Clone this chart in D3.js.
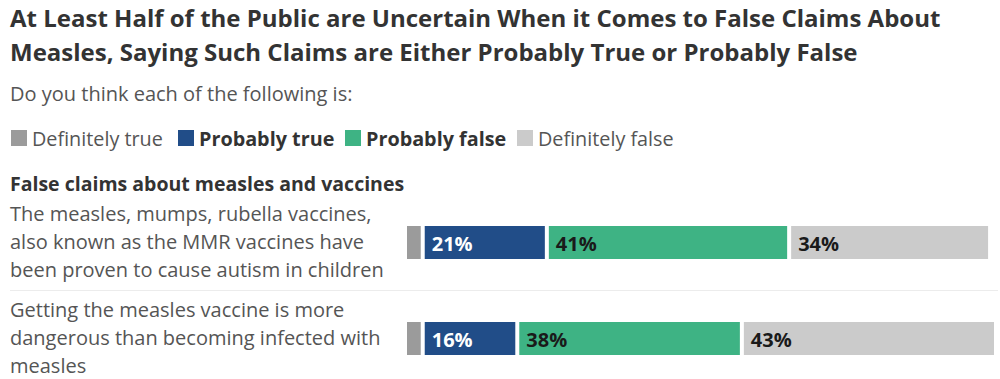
<!DOCTYPE html>
<html>
<head>
<meta charset="utf-8">
<script src="https://cdn.jsdelivr.net/npm/d3@7"></script>
<style>
  body { margin: 0; background: #fff; }
  svg { display: block; font-family: "Open Sans", Lato, sans-serif; }
</style>
</head>
<body>
<div id="chart"></div>
<script>
// data
var categories = ["Definitely true", "Probably true", "Probably false", "Definitely false"];
var claims = [
  ["The measles, mumps, rubella vaccines,", "also known as the MMR vaccines have", "been proven to cause autism in children"],
  ["Getting the measles vaccine is more", "dangerous than becoming infected with", "measles"]
];
var definitelyTrue = [3, 3];
var probablyTrue = [21, 16];
var probablyFalse = [41, 38];
var definitelyFalse = [34, 43];

var colors = ["#9b9b9b", "#214d88", "#3eb384", "#cbcbcb"];
var labelColors = ["#fff", "#fff", "#1a1a1a", "#1a1a1a"];

var width = 1000
    height = 379

var svg = d3.select("#chart")
  .append("svg")
  .attr("width", width)
  .attr("height", height);

// title + subtitle
var title = svg.append("text")
  .attr("x", 10)
  .attr("font-size", 24)
  .attr("font-weight", "bold")
  .attr("fill", "#333");
title.append("tspan").attr("x", 10).attr("y", 27)
  .text("At Least Half of the Public are Uncertain When it Comes to False Claims About");
title.append("tspan").attr("x", 10).attr("y", 61)
  .text("Measles, Saying Such Claims are Either Probably True or Probably False");

svg.append("text")
  .attr("x", 10)
  .attr("y", 101)
  .attr("font-size", 20)
  .attr("fill", "#555")
  .text("Do you think each of the following is:");

// legend
var legendX = [11, 178, 345, 517];
var legend = svg.selectAll(".legend")
  .data(categories)
  .enter()
  .append("g")
  .attr("transform", function(d, i) { return "translate(" + legendX[i] + ",130)"; });

legend.append("rect")
  .attr("width", 16)
  .attr("height", 16)
  .attr("fill", function(d, i) { return colors[i]; });

legend.append("text")
  .attr("x", 21)
  .attr("y", 15.5)
  .attr("font-size", 19.8)
  .attr("font-weight", function(d, i) { return (i == 1 || i == 2) ? "bold" : "normal"; })
  .attr("fill", function(d, i) { return (i == 1 || i == 2) ? "#333" : "#555"; })
  .text(function(d) { return d; });

svg.append("text")
  .attr("x", 10)
  .attr("y", 191)
  .attr("font-size", 19.5)
  .attr("font-weight", "bold")
  .attr("fill", "#333")
  .text("False claims about measles and vaccines");

// scales
var x = d3.scaleLinear()
  .domain([0, 100])
  .range([407, 998]);

var y = d3.scaleBand()
  .domain(d3.range(claims.length))
  .range([194.5, 386.5]);

var barHeight = 33;
var gap = 4;

// stack the series
var rows = claims.map(function(c, i) {
  var vals = [definitelyTrue[i], probablyTrue[i], probablyFalse[i], definitelyFalse[i]];
  var start = 0;
  return vals.map(function(v, k) {
    var seg = { row: i, cat: k, value: v, x0: start, x1: start + v };
    start += v;
    return seg;
  });
});

// separator lines between rows
svg.selectAll(".sep")
  .data(d3.range(1, claims.length))
  .enter()
  .append("line")
  .attr("x1", 10)
  .attr("x2", 998)
  .attr("y1", function(d) { return y(d); })
  .attr("y2", function(d) { return y(d); })
  .attr("stroke", "#ececec")
  .attr("stroke-width", 1);

// row labels
var rowLabel = svg.selectAll(".rowlabel")
  .data(claims)
  .enter()
  .append("text")
  .attr("font-size", 20)
  .attr("fill", "#555");

rowLabel.selectAll("tspan")
  .data(function(d, i) { return d.map(function(line, j) { return { line: line, j: j, n: d.length, row: i }; }); })
  .enter()
  .append("tspan")
  .attr("x", 10)
  .attr("y", function(d) {
    var c = y(d.row) + y.bandwidth() / 2;
    return c + (d.j - (d.n - 1) / 2) * 28 + 6.5;
  })
  .text(function(d) { return d.line; });

// bars
var segs = svg.selectAll(".row")
  .data(rows)
  .enter()
  .append("g")
  .selectAll("g")
  .data(function(d) { return d; })
  .enter()
  .append("g");

segs.append("rect")
  .attr("x", function(d) { return x(d.x0); })
  .attr("y", function(d) { return y(d.row) + y.bandwidth() / 2 - barHeight / 2; })
  .attr("width", function(d) { return x(d.x1) - x(d.x0) - gap; })
  .attr("height", barHeight)
  .attr("fill", function(d) { return colors[d.cat]; });

segs.filter(function(d) { return d.value >= 5; })
  .append("text")
  .attr("x", function(d) { return x(d.x0) + 7; })
  .attr("y", function(d) { return y(d.row) + y.bandwidth() / 2 + 8.5; })
  .attr("font-size", 20)
  .attr("font-weight", "bold")
  .attr("fill", function(d) { return labelColors[d.cat]; })
  .text(function(d) { return d.value + "%"; });
</script>
</body>
</html>
